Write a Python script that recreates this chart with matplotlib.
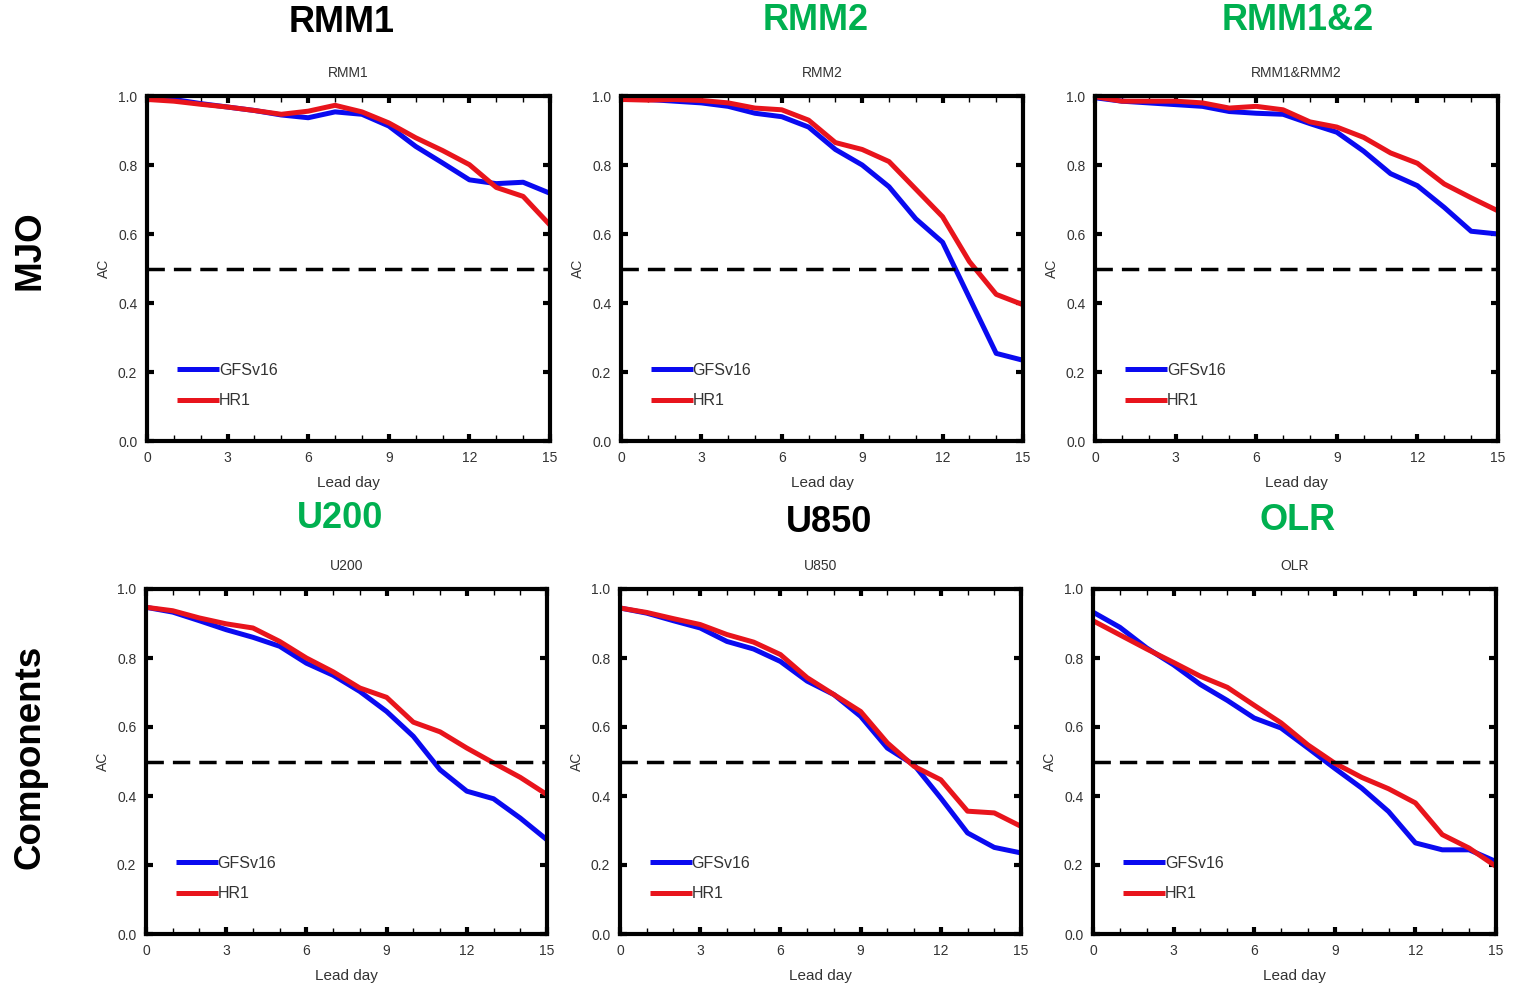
import matplotlib.pyplot as plt
import matplotlib.ticker as ticker
import numpy as np

plt.rcParams['font.family'] = ['Liberation Sans', 'DejaVu Sans']

days = np.arange(16)

rmm1_gfs = [0.995, 0.99, 0.978, 0.968, 0.958, 0.945, 0.937, 0.954, 0.947, 0.913, 0.854, 0.806, 0.757, 0.746, 0.75, 0.718]
rmm1_hr1 = [0.99, 0.985, 0.976, 0.968, 0.958, 0.947, 0.956, 0.973, 0.954, 0.922, 0.879, 0.842, 0.801, 0.735, 0.709, 0.626]

rmm2_gfs = [0.99, 0.99, 0.985, 0.98, 0.97, 0.95, 0.94, 0.91, 0.845, 0.80, 0.737, 0.644, 0.576, 0.415, 0.254, 0.234]
rmm2_hr1 = [0.99, 0.988, 0.99, 0.987, 0.98, 0.965, 0.96, 0.93, 0.865, 0.845, 0.81, 0.73, 0.65, 0.52, 0.425, 0.395]

rmm12_gfs = [0.995, 0.985, 0.98, 0.975, 0.97, 0.955, 0.95, 0.947, 0.92, 0.895, 0.84, 0.775, 0.74, 0.677, 0.608, 0.60]
rmm12_hr1 = [0.998, 0.985, 0.985, 0.985, 0.98, 0.965, 0.97, 0.96, 0.925, 0.91, 0.88, 0.835, 0.805, 0.745, 0.705, 0.667]

u200_gfs = [0.947, 0.933, 0.908, 0.882, 0.86, 0.834, 0.785, 0.75, 0.703, 0.645, 0.573, 0.476, 0.414, 0.392, 0.336, 0.273]
u200_hr1 = [0.947, 0.937, 0.916, 0.899, 0.887, 0.848, 0.80, 0.76, 0.713, 0.686, 0.614, 0.586, 0.539, 0.496, 0.454, 0.404]

u850_gfs = [0.945, 0.93, 0.908, 0.887, 0.848, 0.826, 0.79, 0.733, 0.694, 0.631, 0.539, 0.49, 0.394, 0.293, 0.251, 0.235]
u850_hr1 = [0.945, 0.932, 0.914, 0.897, 0.868, 0.846, 0.81, 0.743, 0.694, 0.645, 0.554, 0.486, 0.447, 0.356, 0.351, 0.312]

olr_gfs = [0.933, 0.889, 0.829, 0.78, 0.723, 0.677, 0.626, 0.597, 0.539, 0.48, 0.423, 0.355, 0.264, 0.244, 0.244, 0.21]
olr_hr1 = [0.908, 0.867, 0.826, 0.787, 0.747, 0.715, 0.663, 0.612, 0.548, 0.495, 0.454, 0.421, 0.38, 0.288, 0.249, 0.196]

small_titles = ['RMM1', 'RMM2', 'RMM1&RMM2', 'U200', 'U850', 'OLR']
big_titles = ['RMM1', 'RMM2', 'RMM1&2', 'U200', 'U850', 'OLR']
big_colors = ['black', '#00b050', '#00b050', '#00b050', 'black', '#00b050']
gfs_all = [rmm1_gfs, rmm2_gfs, rmm12_gfs, u200_gfs, u850_gfs, olr_gfs]
hr1_all = [rmm1_hr1, rmm2_hr1, rmm12_hr1, u200_hr1, u850_hr1, olr_hr1]

W, H = 1513, 984
fig = plt.figure(figsize=(15.13, 9.84), dpi=100)

# panel boxes in pixels: left, top, right, bottom
boxes = [(147, 96, 550, 441), (621, 96, 1023, 441), (1095, 96, 1498, 441),
         (146, 589, 547, 934), (620, 589, 1021, 934), (1093, 589, 1496, 934)]
big_pos = [(342, 23), (816, 21), (1298, 21), (340, 518), (829, 522), (1298, 520)]

for i in range(6):
    l, t, r, b = boxes[i]
    ax = fig.add_axes([l / W, 1 - b / H, (r - l) / W, (b - t) / H])
    ax.plot(days, gfs_all[i], color='#0a0af0', lw=3.6, label='GFSv16', solid_capstyle='butt')
    ax.plot(days, hr1_all[i], color='#e8141c', lw=3.6, label='HR1', solid_capstyle='butt')
    ax.axhline(0.5, color='black', lw=2.5, dashes=(5, 2.6))
    ax.set_xlim(0, 15)
    ax.set_ylim(0, 1)
    ax.xaxis.set_major_locator(ticker.MultipleLocator(3))
    ax.xaxis.set_minor_locator(ticker.MultipleLocator(1))
    ax.yaxis.set_major_locator(ticker.MultipleLocator(0.2))
    ax.yaxis.set_major_formatter(ticker.FormatStrFormatter('%.1f'))
    ax.tick_params(which='both', direction='in', top=True, right=True,
                   labelsize=10, labelcolor='#333333', pad=7)
    ax.tick_params(which='major', length=5, width=3)
    ax.tick_params(which='minor', length=4, width=1)
    for s in ax.spines.values():
        s.set_linewidth(3)
    ax.set_title(small_titles[i], fontsize=10, color='#333333', pad=14)
    ax.set_xlabel('Lead day', fontsize=11, color='#333333', labelpad=8)
    ax.set_ylabel('AC', fontsize=10, color='#333333', labelpad=5)
    ax.legend(loc='lower left', bbox_to_anchor=(0.075, 0.095), frameon=False,
              borderpad=0, borderaxespad=0, handlelength=2.6, handletextpad=0,
              labelspacing=0.95, fontsize=11.5, labelcolor='#333333')
    fig.text(big_pos[i][0] / W, 1 - big_pos[i][1] / H, big_titles[i], fontsize=26,
             fontweight='bold', color=big_colors[i], ha='center', va='center')

fig.text(30 / W, 1 - 250 / H, 'MJO', fontsize=26.5, fontweight='bold', rotation=90,
         ha='center', va='center')
fig.text(30 / W, 1 - 757 / H, 'Components', fontsize=26.5, fontweight='bold', rotation=90,
         ha='center', va='center')

fig.savefig('out.png', dpi=100)
